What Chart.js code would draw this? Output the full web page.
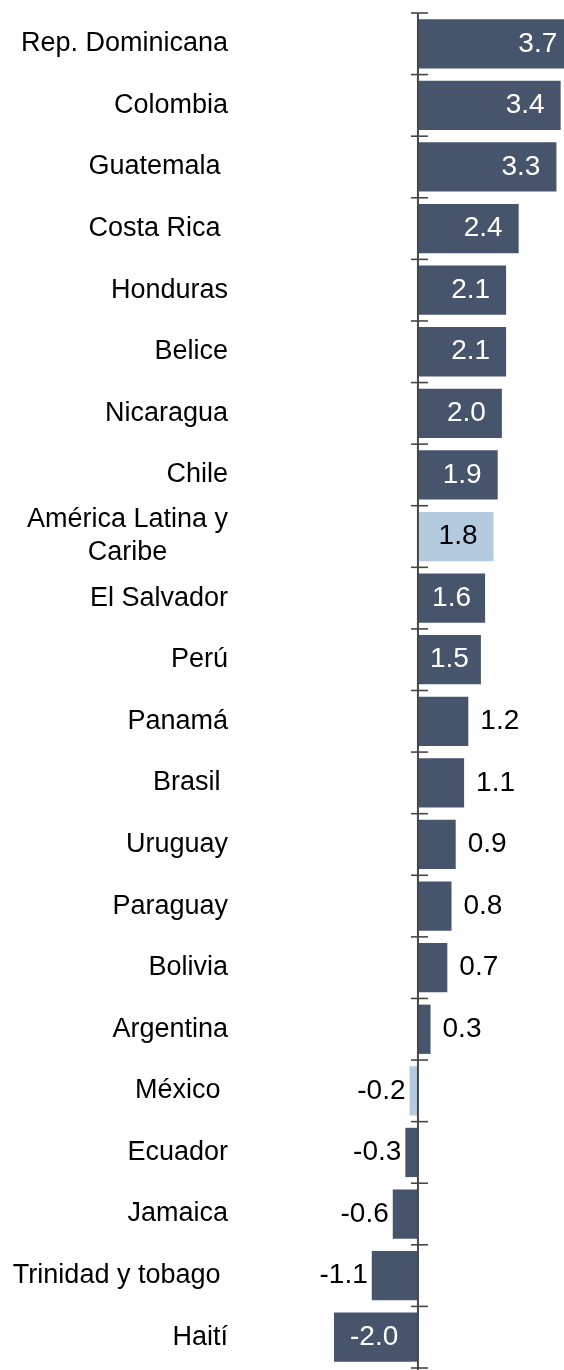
<!DOCTYPE html>
<html>
<head>
<meta charset="utf-8">
<script src="https://cdn.jsdelivr.net/npm/chart.js@4/dist/chart.umd.min.js"></script>
<style>
    body { margin: 0; background: #fff; }
    #wrap { width: 564px; height: 1370px; }
</style>
</head>
<body>
<div id="wrap"><canvas id="chart-growth" width="564" height="1370"></canvas></div>
<script>
// Data
const countries = [
    'Rep. Dominicana', 'Colombia', 'Guatemala ', 'Costa Rica ', 'Honduras', 'Belice',
    'Nicaragua', 'Chile', ['América Latina y', 'Caribe'], 'El Salvador', 'Perú', 'Panamá',
    'Brasil ', 'Uruguay', 'Paraguay', 'Bolivia', 'Argentina', 'México ', 'Ecuador',
    'Jamaica', 'Trinidad y tobago ', 'Haití'
];
const growth = [3.7, 3.4, 3.3, 2.4, 2.1, 2.1, 2.0, 1.9, 1.8, 1.6, 1.5, 1.2, 1.1, 0.9, 0.8, 0.7, 0.3, -0.2, -0.3, -0.6, -1.1, -2.0];
const highlighted = ['América Latina y', 'México '];

const DARK = '#46556c';
const LIGHT = '#b3cadf';
const CAT_FONT = '27px "Liberation Sans", Arial, sans-serif';
const VAL_FONT = '28px "Liberation Sans", Arial, sans-serif';

const isHighlight = lbl => highlighted.includes(Array.isArray(lbl) ? lbl[0] : lbl);
const barColors = countries.map(c => isHighlight(c) ? LIGHT : DARK);

// Zero axis line with small ticks between categories
const zeroAxis = {
    id: 'zeroAxis',
    afterDatasetsDraw(chart) {
        const { ctx, chartArea, scales: { x, y } } = chart;
        const x0 = x.getPixelForValue(0);
        const step = y.getPixelForValue(1) - y.getPixelForValue(0);
        ctx.save();
        ctx.strokeStyle = '#474747';
        ctx.lineWidth = 2;
        ctx.beginPath();
        ctx.moveTo(x0, chartArea.top);
        ctx.lineTo(x0, chartArea.bottom + 2);
        ctx.stroke();
        ctx.lineWidth = 1.6;
        for (let i = 0; i <= countries.length; i++) {
            const yy = y.getPixelForValue(i) - step / 2;
            ctx.beginPath();
            ctx.moveTo(x0 - 7, yy);
            ctx.lineTo(x0 + 10, yy);
            ctx.stroke();
        }
        ctx.restore();
    }
};

// Category names (multi-line ones centred in their block) and value labels
const labelsPlugin = {
    id: 'labelsPlugin',
    afterDraw(chart) {
        const { ctx, scales: { x, y } } = chart;
        const x0 = x.getPixelForValue(0);
        ctx.save();
        ctx.font = CAT_FONT;
        ctx.textBaseline = 'middle';
        ctx.fillStyle = '#000';

        countries.forEach((lbl, i) => {
            const cy = y.getPixelForValue(i);
            const right = 228;
            if (Array.isArray(lbl)) {
                const w = Math.max(...lbl.map(l => ctx.measureText(l).width));
                ctx.textAlign = 'center';
                lbl.forEach((l, j) => {
                    ctx.fillText(l, right - w / 2, cy + (j - (lbl.length - 1) / 2) * 33);
                });
            } else {
                ctx.textAlign = 'right';
                ctx.fillText(lbl, right, cy);
            }
        });

        ctx.font = VAL_FONT;
        const meta = chart.getDatasetMeta(0);
        meta.data.forEach((bar, i) => {
            const v = growth[i];
            const txt = v.toFixed(1);
            const tw = ctx.measureText(txt).width;
            const end = x.getPixelForValue(v);
            const len = Math.abs(end - x0);
            const cy = bar.y;
            ctx.textAlign = 'center';
            if (len >= tw + 20) {
                // inside the bar
                const mid = (end + x0) / 2;
                let px;
                if (v > 0) px = Math.max(mid, end - 16 - tw / 2);
                else px = Math.min(mid, end + 16 + tw / 2);
                ctx.fillStyle = barColors[i] === LIGHT ? '#000' : '#fff';
                ctx.fillText(txt, px, cy);
            } else {
                ctx.fillStyle = '#000';
                const px = v >= 0 ? end + 12 + tw / 2 : end - 4 - tw / 2;
                ctx.fillText(txt, px, cy);
            }
        });
        ctx.restore();
    }
};

const ctx = document.getElementById('chart-growth').getContext('2d');
window.growthChart = new Chart(ctx, {
    type: 'bar',
    data: {
        labels: countries,
        datasets: [{
            data: growth,
            backgroundColor: barColors,
            borderWidth: 0,
            barPercentage: 0.8,
            categoryPercentage: 1.0
        }]
    },
    options: {
        indexAxis: 'y',
        responsive: false,
        devicePixelRatio: 1,
        animation: false,
        layout: { padding: { top: 13, bottom: 2, left: 0, right: 0 } },
        plugins: { legend: { display: false }, tooltip: { enabled: false } },
        scales: {
            x: {
                display: false,
                min: -2,
                max: 3.48
            },
            y: {
                grid: { display: false },
                border: { display: false },
                ticks: { display: false },
                afterFit(scale) { scale.width = 334; }
            }
        }
    },
    plugins: [zeroAxis, labelsPlugin]
});
</script>
</body>
</html>
